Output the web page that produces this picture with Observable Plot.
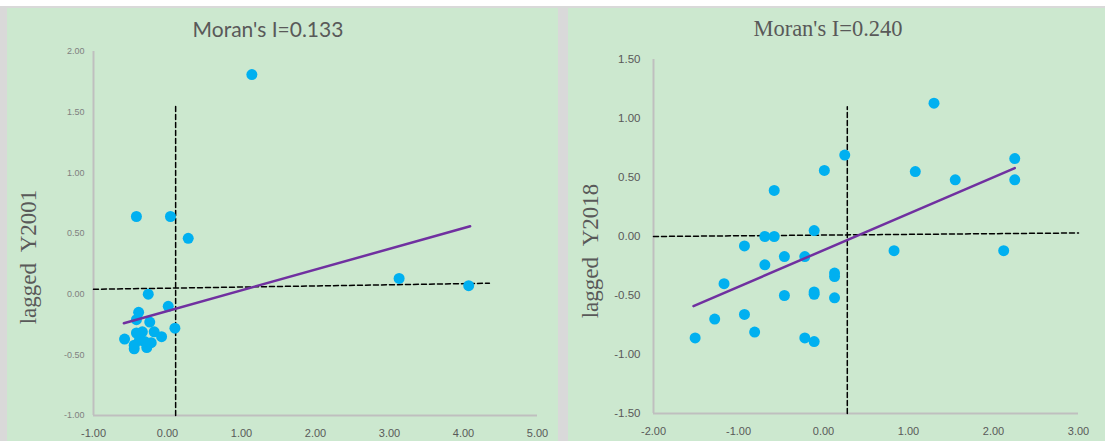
<!DOCTYPE html>
<html><head><meta charset="utf-8">
<script src="https://cdn.jsdelivr.net/npm/d3@7"></script>
<script src="https://cdn.jsdelivr.net/npm/@observablehq/plot@0.6"></script>
<style>
body{margin:0;width:1105px;height:441px;background:#fff;position:relative;overflow:hidden;font-family:"Liberation Sans",sans-serif;}
#frame{position:absolute;left:0;top:6px;width:1105px;height:435px;background:#d9d9d9;}
.panel{position:absolute;top:8px;height:433px;background:#cce8cf;overflow:hidden;}
#p1{left:7px;width:551px;}
#p2{left:568px;width:537px;}
.title{position:absolute;white-space:nowrap;color:#595959;transform:translateX(-50%);line-height:1;}
.sans{font-family:Lato,"Open Sans",sans-serif;font-size:21px;}
.serif{font-family:"Liberation Serif",serif;font-size:22.5px;}
.ylab{position:absolute;white-space:pre;color:#595959;font-family:"Liberation Serif",serif;font-size:23px;line-height:1;transform:translate(-50%,-50%) rotate(-90deg);}
.wrap{position:absolute;left:0;top:32px;}
</style></head>
<body>
<div id="frame"></div>
<div class="panel" id="p1"><div class="title sans" id="t1"></div><div class="ylab" id="y1"></div><div class="wrap" id="w1"></div></div>
<div class="panel" id="p2"><div class="title serif" id="t2"></div><div class="ylab" id="y2"></div><div class="wrap" id="w2"></div></div>
<script>
// ---- Panel 1 (2001) ----
const title2001 = "Moran's I=0.133";
const ylabel2001 = "lagged  Y2001";
const x2001 = [1.14, -0.42, 0.04, 0.28, -0.26, 0.01, -0.39, -0.42, -0.24, 0.10, -0.18, -0.08, -0.58, -0.42, -0.34, -0.38, -0.45, -0.45, -0.28, -0.22, -0.31, 3.13, 4.07];
const y2001 = [1.81, 0.64, 0.64, 0.46, 0.00, -0.10, -0.15, -0.21, -0.23, -0.28, -0.31, -0.35, -0.37, -0.32, -0.31, -0.38, -0.42, -0.45, -0.44, -0.40, -0.39, 0.13, 0.07];
const fitX2001 = [-0.59, 4.09];
const fitY2001 = [-0.24, 0.56];
const vRefX2001 = [0.11, 0.11];
const vRefY2001 = [-1.0, 1.56];
const hRefX2001 = [-1.0, 4.35];
const hRefY2001 = [0.04, 0.09];
const xTicks2001 = [-1, 0, 1, 2, 3, 4, 5];
const yTicks2001 = [-1, -0.5, 0, 0.5, 1, 1.5, 2];

// ---- Panel 2 (2018) ----
const title2018 = "Moran's I=0.240";
const ylabel2018 = "lagged  Y2018";
const x2018 = [0.25, 0.01, -0.58, -0.69, -0.58, -0.11, 1.30, 1.08, 1.55, 2.25, 2.25, 0.83, 2.12, -0.93, -0.69, -0.46, -0.22, 0.13, 0.13, -1.17, -0.46, -0.11, -0.11, 0.13, -1.28, -0.93, -0.81, -1.51, -0.22, -0.11];
const y2018 = [0.69, 0.56, 0.39, 0.00, 0.00, 0.05, 1.13, 0.55, 0.48, 0.66, 0.48, -0.12, -0.12, -0.08, -0.24, -0.17, -0.17, -0.31, -0.34, -0.40, -0.50, -0.47, -0.49, -0.52, -0.70, -0.66, -0.81, -0.86, -0.86, -0.89];
const fitX2018 = [-1.53, 2.25];
const fitY2018 = [-0.59, 0.58];
const vRefX2018 = [0.28, 0.28];
const vRefY2018 = [-1.5, 1.10];
const hRefX2018 = [-2.0, 3.0];
const hRefY2018 = [0.0, 0.03];
const xTicks2018 = [-2, -1, 0, 1, 2, 3];
const yTicks2018 = [-1.5, -1, -0.5, 0, 0.5, 1, 1.5];

const zip = (xs, ys) => xs.map((x, i) => ({x, y: ys[i]}));
const fmt = d => d.toFixed(2);

function panel(o) {
  const xd = [o.xTicks[0], o.xTicks[o.xTicks.length - 1]];
  const yd = [o.yTicks[0], o.yTicks[o.yTicks.length - 1]];
  return Plot.plot({
    width: o.width, height: 401,
    marginLeft: o.ml, marginRight: o.mr, marginTop: o.mt, marginBottom: o.mb,
    style: {background: "transparent", overflow: "visible", fontFamily: "'Liberation Sans', sans-serif"},
    x: {domain: xd},
    y: {domain: yd},
    marks: [
      Plot.axisX({ticks: o.xTicks, tickSize: 0, tickPadding: 14, tickFormat: fmt, fontSize: 11, fill: "#595959", label: null}),
      Plot.axisY({ticks: o.yTicks, tickSize: 0, tickPadding: o.ypad, tickFormat: fmt, fontSize: o.yfs, fill: o.ycol, label: null}),
      Plot.ruleX([xd[0]], {y1: yd[0], y2: yd[1], stroke: "#bfbfbf", strokeWidth: 2}),
      Plot.ruleY([yd[0]], {x1: xd[0], x2: xd[1], stroke: "#bfbfbf", strokeWidth: 2}),
      Plot.line(zip(o.vx, o.vy), {x: "x", y: "y", stroke: "#000", strokeWidth: 1.5, strokeDasharray: "5,3"}),
      Plot.line(zip(o.hx, o.hy), {x: "x", y: "y", stroke: "#000", strokeWidth: 1.5, strokeDasharray: "5,3"}),
      Plot.dot(zip(o.xs, o.ys), {x: "x", y: "y", r: 5.5, fill: "#00b0f0"}),
      Plot.line(zip(o.fx, o.fy), {x: "x", y: "y", stroke: "#7030a0", strokeWidth: 2.5})
    ]
  });
}

document.getElementById("w1").append(panel({
  width: 551, ml: 86, mr: 21, mt: 11, mb: 26, ypad: 9, yfs: 9, ycol: "#808080",
  xTicks: xTicks2001, yTicks: yTicks2001, xs: x2001, ys: y2001,
  fx: fitX2001, fy: fitY2001, vx: vRefX2001, vy: vRefY2001, hx: hRefX2001, hy: hRefY2001
}));
document.getElementById("w2").append(panel({
  width: 537, ml: 85, mr: 27, mt: 19, mb: 28, ypad: 13, yfs: 11.5, ycol: "#595959",
  xTicks: xTicks2018, yTicks: yTicks2018, xs: x2018, ys: y2018,
  fx: fitX2018, fy: fitY2018, vx: vRefX2018, vy: vRefY2018, hx: hRefX2018, hy: hRefY2018
}));

const t1 = document.getElementById("t1"); t1.textContent = title2001; t1.style.left = "261px"; t1.style.top = "10px";
const t2 = document.getElementById("t2"); t2.textContent = title2018; t2.style.left = "260px"; t2.style.top = "10px";
const l1 = document.getElementById("y1"); l1.textContent = ylabel2001; l1.style.left = "21px"; l1.style.top = "249px";
const l2 = document.getElementById("y2"); l2.textContent = ylabel2018; l2.style.left = "22px"; l2.style.top = "243px";
</script>
</body></html>
